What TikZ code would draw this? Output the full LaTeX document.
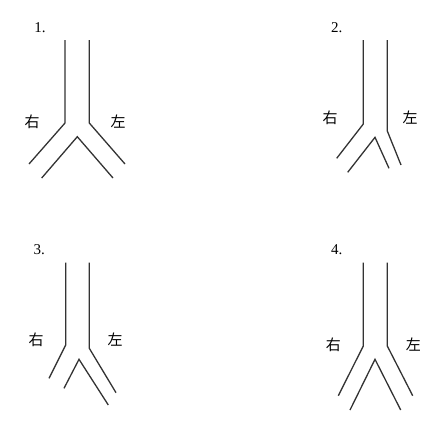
\documentclass[tikz,border=0pt]{standalone}
\usepackage{fontspec}
\setmainfont{Liberation Serif}
\newfontfamily\cjk{Noto Sans CJK SC}
\begin{document}
\begin{tikzpicture}[x=1pt,y=-1pt,
  tube/.style={draw=black!80,line width=1.3pt},
  lbl/.style={font=\cjk\fontsize{15}{15}\selectfont,inner sep=0pt},
  num/.style={font=\fontsize{15}{15}\selectfont,inner sep=0pt}]
\useasboundingbox (0,0) rectangle (443,429);
% Panel 1
\node[num] (n1) at (40,28) {1.};
\draw[tube] (65,40) -- (65,123) -- (29,164);
\draw[tube] (89.3,40) -- (89.3,123) -- (125,164);
\draw[tube] (41.7,178) -- (77.3,136.7) -- (113,178);
\node[lbl] (r1) at (32,122) {右};
\node[lbl] (l1) at (118,122) {左};
% Panel 2
\node[num] (n2) at (336.7,28) {2.};
\draw[tube] (363.3,40) -- (363.3,124) -- (336.7,158.3);
\draw[tube] (387.3,40) -- (387.3,131) -- (401,165);
\draw[tube] (347.7,172.3) -- (375,137.3) -- (389,168.3);
\node[lbl] (r2) at (330,118) {右};
\node[lbl] (l2) at (410,118) {左};
% Panel 3
\node[num] (n3) at (39.3,250) {3.};
\draw[tube] (65.7,262.7) -- (65.7,345) -- (49,378.3);
\draw[tube] (89.3,262.7) -- (89.3,348.3) -- (116,392.7);
\draw[tube] (64,388.3) -- (79,359.3) -- (108.3,405);
\node[lbl] (r3) at (36,340) {右};
\node[lbl] (l3) at (115,340) {左};
% Panel 4
\node[num] (n4) at (336.7,249.3) {4.};
\draw[tube] (363.3,262.7) -- (363.3,346) -- (338.3,395.7);
\draw[tube] (387.3,262.7) -- (387.3,346) -- (412.7,395.7);
\draw[tube] (350,410) -- (375,359.3) -- (400.7,410);
\node[lbl] (r4) at (333.3,345) {右};
\node[lbl] (l4) at (413.3,345) {左};
\end{tikzpicture}
\end{document}
